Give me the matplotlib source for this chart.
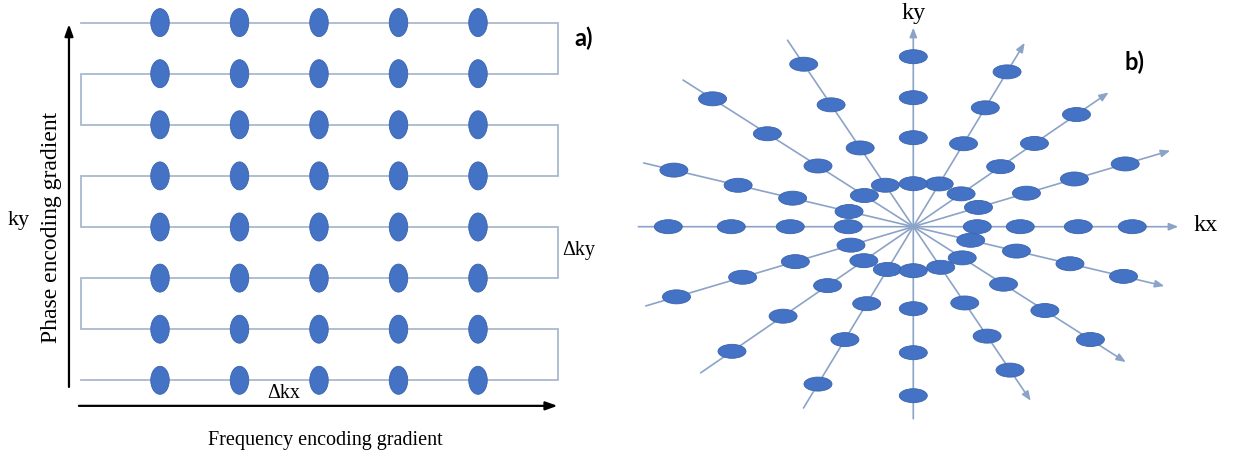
import math

import matplotlib
matplotlib.use("Agg")
import matplotlib.pyplot as plt
from matplotlib.patches import Ellipse

W, H, DPI = 1233, 459, 100

DOT = "#4472C4"
DOT_EDGE = "#3A63AD"
PATH_A = "#A9B9CE"
PATH_B = "#8CA3C8"
SERIF = "Liberation Serif"
LABEL_FONT = "Lato"

# a) cartesian sampling: columns along kx, rows (phase steps) along ky
KX_COLS = [1, 2, 3, 4, 5]
KY_ROWS = [1, 2, 3, 4, 5, 6, 7, 8]
KX_SPAN = (0, 6)  # readout line runs from kx=0 to kx=6

# b) radial sampling: each line passes through the centre; angle of the arrowed end (deg)
SPOKE_ANGLES = [0.0, 16.5, 34.5, 58.8, 90.0, -56.0, -32.5, -13.3]
# sample radii on the arrowed half and on the opposite half
SPOKE_RADII_FWD = [
    [64, 107, 165, 219],
    [68, 118, 168, 221],
    [58, 106, 147, 198],
    [50, 97, 139, 181],
    [43, 89, 129, 170],
    [49, 92, 132, 173],
    [58, 107, 156, 210],
    [59, 106, 161, 216],
]
SPOKE_RADII_BACK = [
    [65, 123, 182, 245],
    [65, 123, 178, 247],
    [60, 104, 158, 220],
    [50, 90, 132, 184],
    [44, 82, 126, 169],
    [50, 95, 147, 196],
    [58, 113, 173, 238],
    [66, 124, 180, 246],
]
SPOKE_LEN_FWD = [265, 268, 237, 215, 199, 210, 252, 258]
SPOKE_LEN_BACK = [275, 279, 258, 212, 192, 225, 273, 277]


def fig_xy(x_px: float, y_px: float):
    return x_px / W, 1.0 - y_px / H


def draw_cartesian(fig):
    # kx unit = 79.5 px starting at x=80.5; ky unit = 51.1 px with row 1 at y=380.3
    dx, x0 = 79.5, 80.5
    dy, y1 = 51.1, 380.3
    left_w = 620
    ax = fig.add_axes([0, 0, left_w / W, 1])
    ax.set_xlim(-x0 / dx, (left_w - x0) / dx)
    ax.set_ylim(1 - (H - y1) / dy, 1 + y1 / dy)
    ax.axis("off")

    # boustrophedon readout path, top row first
    xs, ys = [], []
    for i, row in enumerate(sorted(KY_ROWS, reverse=True)):
        a, b = KX_SPAN if i % 2 == 0 else KX_SPAN[::-1]
        xs += [a, b]
        ys += [row, row]
    ax.plot(xs, ys, color=PATH_A, lw=1.3, zorder=1, solid_joinstyle="miter")

    for row in KY_ROWS:
        for col in KX_COLS:
            ax.add_patch(Ellipse((col, row), 18.5 / dx, 28 / dy, facecolor=DOT,
                                 edgecolor=DOT_EDGE, lw=0.6, zorder=3))

    arrow = dict(arrowstyle="-|>,head_length=0.7,head_width=0.25", color="black",
                 lw=1.6, shrinkA=0, shrinkB=0, mutation_scale=10)
    ax.annotate("", xy=(-0.145, 7.97), xytext=(-0.145, 0.87), arrowprops=arrow)
    ax.annotate("", xy=(6.0, 0.50), xytext=(-0.02, 0.50), arrowprops=arrow)

    fig.text(*fig_xy(19, 221), "ky", family=SERIF, fontsize=16, ha="center", va="center")
    fig.text(*fig_xy(52, 227), "Phase encoding gradient", family=SERIF, fontsize=17,
             rotation=90, ha="center", va="center")
    fig.text(*fig_xy(284, 393), "Δkx", family=SERIF, fontsize=14.5, ha="center", va="center")
    fig.text(*fig_xy(579, 250), "Δky", family=SERIF, fontsize=14.5, ha="center", va="center")
    fig.text(*fig_xy(325, 440), "Frequency encoding gradient", family=SERIF, fontsize=14.5,
             ha="center", va="center")
    fig.text(*fig_xy(584, 38), "a)", family=LABEL_FONT, fontweight="bold", fontsize=17,
             ha="center", va="center")


def draw_radial(fig):
    cx, cy = 913.3, 226.7
    left = 620
    ax = fig.add_axes([left / W, 0, (W - left) / W, 1])
    ax.set_xlim(left - cx, W - cx)
    ax.set_ylim(-(H - cy), cy)
    ax.axis("off")

    arrow = dict(arrowstyle="-|>,head_length=0.55,head_width=0.22", color=PATH_B,
                 lw=1.2, shrinkA=0, shrinkB=0, mutation_scale=10)
    for ang, fwd, back, lf, lb in zip(SPOKE_ANGLES, SPOKE_RADII_FWD, SPOKE_RADII_BACK,
                                      SPOKE_LEN_FWD, SPOKE_LEN_BACK):
        ux, uy = math.cos(math.radians(ang)), math.sin(math.radians(ang))
        ax.annotate("", xy=(lf * ux, lf * uy), xytext=(-lb * ux, -lb * uy),
                    arrowprops=arrow, zorder=1)
        for r in fwd:
            ax.add_patch(Ellipse((r * ux, r * uy), 28, 14, facecolor=DOT,
                                 edgecolor=DOT_EDGE, lw=0.6, zorder=3))
        for r in back:
            ax.add_patch(Ellipse((-r * ux, -r * uy), 28, 14, facecolor=DOT,
                                 edgecolor=DOT_EDGE, lw=0.6, zorder=3))

    fig.text(*fig_xy(914, 14), "ky", family=SERIF, fontsize=17.5, ha="center", va="center")
    fig.text(*fig_xy(1206, 226), "kx", family=SERIF, fontsize=17.5, ha="center", va="center")
    fig.text(*fig_xy(1134, 62), "b)", family=LABEL_FONT, fontweight="bold", fontsize=17,
             ha="center", va="center")


def main() -> None:
    fig = plt.figure(figsize=(W / DPI, H / DPI), dpi=DPI)
    fig.patch.set_facecolor("white")
    draw_cartesian(fig)
    draw_radial(fig)
    fig.savefig("out.png", dpi=DPI, facecolor="white")
    plt.close(fig)


if __name__ == "__main__":
    main()
